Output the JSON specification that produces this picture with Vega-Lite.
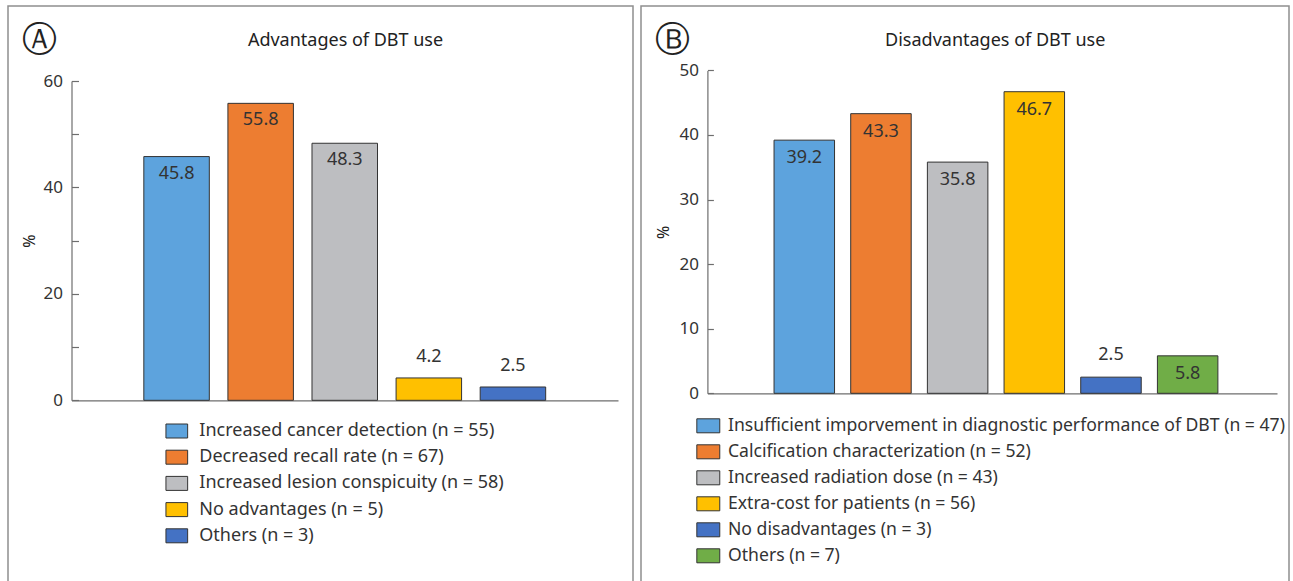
{
  "$schema": "https://vega.github.io/schema/vega-lite/v6.json",
  "background": "white",
  "padding": {"left": 7, "top": 5, "right": 0, "bottom": 0},
  "config": {
    "font": "Noto Sans",
    "view": {"stroke": "#8f8f8f", "strokeWidth": 1.5},
    "concat": {"spacing": 6},
    "axis": {"domainColor": "#6e6e6e", "tickColor": "#6e6e6e", "domainWidth": 1.2, "tickWidth": 1.2, "labelColor": "#333333", "titleColor": "#222222", "grid": false}
  },
  "resolve": {"scale": {"color": "independent", "x": "independent", "y": "independent"}, "legend": {"color": "independent"}},
  "hconcat": [
    {
      "width": 625,
      "height": 590,
      "data": {"values": [
        {"cat": "Increased cancer detection (n = 55)", "value": 45.8},
        {"cat": "Decreased recall rate (n = 67)", "value": 55.8},
        {"cat": "Increased lesion conspicuity (n = 58)", "value": 48.3},
        {"cat": "No advantages (n = 5)", "value": 4.2},
        {"cat": "Others (n = 3)", "value": 2.5}
      ]},
      "encoding": {
        "y": {"field": "value", "type": "quantitative",
          "scale": {"domain": [0, 60], "range": [394.3, 75], "nice": false},
          "axis": {"values": [0, 10, 20, 30, 40, 50, 60], "labelExpr": "datum.value % 20 === 0 ? datum.label : ''", "tickSize": -7, "labelPadding": 16, "offset": -63.5, "labelFontSize": 17, "title": "%", "titleX": -42.5, "titleAngle": -90, "titleBaseline": "middle", "titleFontSize": 16, "titleFontWeight": "normal"}}
      },
      "resolve": {"axis": {"x": "independent"}},
      "layer": [
        {
          "mark": {"type": "bar", "stroke": "#333333", "strokeWidth": 1},
          "encoding": {
            "x": {"field": "cat", "type": "nominal", "sort": null,
              "scale": {"range": [63.5, 610], "paddingInner": 0.221, "paddingOuter": 0.86, "align": 0.5},
              "axis": {"orient": "bottom", "offset": -195.7, "labels": false, "ticks": false, "title": "Advantages of DBT use", "titleX": 337, "titleY": -355.3, "titleAlign": "center", "titleAnchor": null, "titleBaseline": "alphabetic", "titleFontSize": 18, "titleFontWeight": "normal"}},
            "color": {"field": "cat", "type": "nominal",
              "scale": {"domain": ["Increased cancer detection (n = 55)", "Decreased recall rate (n = 67)", "Increased lesion conspicuity (n = 58)", "No advantages (n = 5)", "Others (n = 3)"],
                "range": ["#5DA3DD", "#ED7D31", "#BDBEC1", "#FFC000", "#4472C4"]},
              "legend": {"orient": "none", "legendX": 159.8, "legendY": 416, "title": null, "symbolType": "M-1.55,-1H1.55V1H-1.55Z", "symbolSize": 196, "symbolStrokeColor": "#333333", "symbolStrokeWidth": 1, "symbolOpacity": 1, "labelFontSize": 18, "labelColor": "#333333", "labelOffset": 13.5, "rowPadding": 8.2, "padding": 0, "labelLimit": 800}}
          }
        },
        {
          "transform": [{"filter": "datum.value > 5"}],
          "mark": {"type": "text", "baseline": "middle", "dy": 17, "fontSize": 18, "color": "#333333"},
          "encoding": {
            "x": {"field": "cat", "type": "nominal", "sort": null,
              "axis": {"orient": "top", "domain": false, "labels": false, "ticks": false, "title": "Ⓐ", "titleX": 31, "titleY": 33, "titleAlign": "center", "titleAnchor": null, "titleBaseline": "middle", "titleFont": "DejaVu Sans", "titleFontSize": 35, "titleFontWeight": "normal"}},
            "text": {"field": "value", "type": "quantitative", "format": ".1f"}
          }
        },
        {
          "transform": [{"filter": "datum.value <= 5"}],
          "mark": {"type": "text", "baseline": "middle", "dy": -21, "fontSize": 18, "color": "#333333"},
          "encoding": {
            "x": {"field": "cat", "type": "nominal", "sort": null, "axis": null},
            "text": {"field": "value", "type": "quantitative", "format": ".1f"}
          }
        }
      ]
    },
    {
      "width": 648,
      "height": 590,
      "data": {"values": [
        {"cat": "Insufficient imporvement in diagnostic performance of DBT (n = 47)", "value": 39.2},
        {"cat": "Calcification characterization (n = 52)", "value": 43.3},
        {"cat": "Increased radiation dose (n = 43)", "value": 35.8},
        {"cat": "Extra-cost for patients (n = 56)", "value": 46.7},
        {"cat": "No disadvantages (n = 3)", "value": 2.5},
        {"cat": "Others (n = 7)", "value": 5.8}
      ]},
      "encoding": {
        "y": {"field": "value", "type": "quantitative",
          "scale": {"domain": [0, 50], "range": [387.3, 64.4], "nice": false},
          "axis": {"values": [0, 10, 20, 30, 40, 50], "tickSize": -6, "labelPadding": 15, "offset": -66.4, "labelFontSize": 17, "title": "%", "titleX": -44.4, "titleAngle": -90, "titleBaseline": "middle", "titleFontSize": 16, "titleFontWeight": "normal"}}
      },
      "resolve": {"axis": {"x": "independent"}},
      "layer": [
        {
          "mark": {"type": "bar", "stroke": "#333333", "strokeWidth": 1},
          "encoding": {
            "x": {"field": "cat", "type": "nominal", "sort": null,
              "scale": {"range": [66.4, 636], "paddingInner": 0.211, "paddingOuter": 0.82, "align": 0.53},
              "axis": {"orient": "bottom", "offset": -202.7, "labels": false, "ticks": false, "title": "Disadvantages of DBT use", "titleX": 353.7, "titleY": -348.3, "titleAlign": "center", "titleAnchor": null, "titleBaseline": "alphabetic", "titleFontSize": 18, "titleFontWeight": "normal"}},
            "color": {"field": "cat", "type": "nominal",
              "scale": {"domain": ["Insufficient imporvement in diagnostic performance of DBT (n = 47)", "Calcification characterization (n = 52)", "Increased radiation dose (n = 43)", "Extra-cost for patients (n = 56)", "No disadvantages (n = 3)", "Others (n = 7)"],
                "range": ["#5DA3DD", "#ED7D31", "#BDBEC1", "#FFC000", "#4472C4", "#70AD47"]},
              "legend": {"orient": "none", "legendX": 58.5, "legendY": 411, "title": null, "symbolType": "M-1.64,-1H1.64V1H-1.64Z", "symbolSize": 196, "symbolStrokeColor": "#333333", "symbolStrokeWidth": 1, "symbolOpacity": 1, "labelFontSize": 17.6, "labelColor": "#333333", "labelOffset": 10.9, "rowPadding": 7.0, "padding": 0, "labelLimit": 800}}
          }
        },
        {
          "transform": [{"filter": "datum.value > 5"}],
          "mark": {"type": "text", "baseline": "middle", "dy": 18, "fontSize": 18, "color": "#333333"},
          "encoding": {
            "x": {"field": "cat", "type": "nominal", "sort": null,
              "axis": {"orient": "top", "domain": false, "labels": false, "ticks": false, "title": "Ⓑ", "titleX": 31, "titleY": 33, "titleAlign": "center", "titleAnchor": null, "titleBaseline": "middle", "titleFont": "DejaVu Sans", "titleFontSize": 35, "titleFontWeight": "normal"}},
            "text": {"field": "value", "type": "quantitative", "format": ".1f"}
          }
        },
        {
          "transform": [{"filter": "datum.value <= 5"}],
          "mark": {"type": "text", "baseline": "middle", "dy": -22, "fontSize": 18, "color": "#333333"},
          "encoding": {
            "x": {"field": "cat", "type": "nominal", "sort": null, "axis": null},
            "text": {"field": "value", "type": "quantitative", "format": ".1f"}
          }
        }
      ]
    }
  ]
}
